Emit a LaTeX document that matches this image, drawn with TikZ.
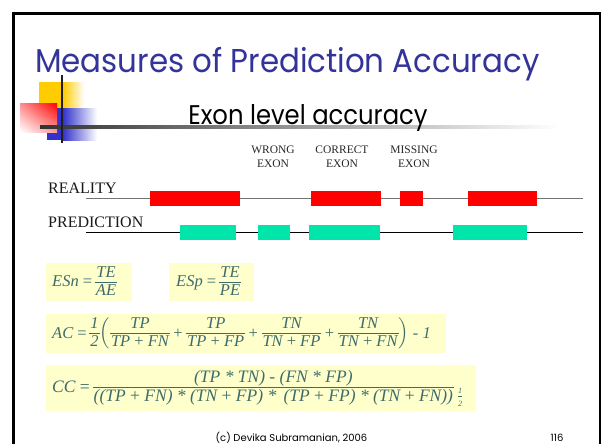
\documentclass[tikz,border=0pt]{standalone}
\usepackage{amsmath}
\usepackage{fontspec}
\usetikzlibrary{shadings}
\setmainfont{Liberation Serif}
\newfontfamily\comic{Poppins}
\definecolor{titleblue}{RGB}{51,51,153}
\definecolor{exonred}{RGB}{255,0,0}
\definecolor{exongreen}{RGB}{0,229,170}
\definecolor{fcol}{RGB}{62,108,108}
\definecolor{fboxcol}{RGB}{255,255,204}
\definecolor{decoyellow}{RGB}{255,204,0}
\definecolor{decoblue}{RGB}{51,51,204}
\definecolor{lblgray}{RGB}{40,40,40}
\newcommand\fr[2]{\ensuremath{\vcenter{\hbox{%
  \setbox0\hbox{\vrule height 0.7em depth 0.22em width 0pt #1}%
  \setbox2\hbox{\vrule height 0.7em depth 0.22em width 0pt #2}%
  \dimen0=\wd0 \ifdim\wd2>\dimen0 \dimen0=\wd2 \fi
  \advance\dimen0 by 2pt
  \vbox{\offinterlineskip\hbox to\dimen0{\hss\box0\hss}\kern1pt\hrule height 0.6pt\kern1pt\hbox to\dimen0{\hss\box2\hss}}}}}}
\newcommand\tinyhalf{\ensuremath{\genfrac{}{}{0.4pt}{1}{\hbox{\fontsize{8}{8}\selectfont\itshape 1}}{\hbox{\fontsize{8}{8}\selectfont\itshape 2}}}}
\newcommand\pl{\hspace{3.5pt}{\upshape +}\hspace{3.5pt}}
\tikzset{
  exbox/.style={inner sep=0, outer sep=0, minimum height=15},
  rbox/.style={exbox, fill=exonred},
  gbox/.style={exbox, fill=exongreen},
  lbl/.style={font=\fontsize{11.5}{14}\selectfont, text=lblgray, align=center, inner sep=0},
  rowlbl/.style={font=\fontsize{16}{16}\selectfont, text=black!90, anchor=base west, inner sep=0},
  formula/.style={fill=fboxcol, text=fcol, font=\fontsize{16.5}{16.5}\selectfont\itshape, inner sep=0, anchor=north west},
}
\begin{document}
\begin{tikzpicture}[x=1pt,y=-1pt]
\useasboundingbox (0,0) rectangle (602,444);
\fill[white] (0,0) rectangle (602,444);
% frame
\draw[line width=2.5pt, black] (13.5,460) -- (13.5,13.5) -- (600,13.5) -- (600,460);
% title
\node[anchor=base west, inner sep=0, text=titleblue, font=\comic\fontsize{33}{33}\selectfont] (title) at (35,72) {\scalebox{0.935}[1]{Measures of Prediction Accuracy}};
% decoration
\fill[decoyellow] (39,82) rectangle (63,108);
\shade[left color=decoyellow, right color=white] (62.9,82) rectangle (84,108);
\fill[decoblue] (47,108) rectangle (63,140);
\shade[left color=decoblue, right color=white] (62.9,108) rectangle (97,140);
\shade[upper right=exonred, upper left=red!45!white, lower right=red!40!white, lower left=white] (20,103) rectangle (57,132);
\shade[left color=black!80, right color=white] (40,125.8) rectangle (560,128.4);
\fill[black!88] (60.8,75) rectangle (63.4,143);
% subtitle
\node[anchor=base, inner sep=0, font=\comic\fontsize{27}{27}\selectfont] (sub) at (308,124) {\scalebox{0.9}[1]{Exon level accuracy}};
% labels
\node[lbl, anchor=north] (wrong) at (273,146) {WRONG\\EXON};
\node[lbl, anchor=north] (correct) at (342,146) {CORRECT\\EXON};
\node[lbl, anchor=north] (missing) at (414,146) {MISSING\\EXON};
% rows
\node[rowlbl] (reality) at (48,193) {REALITY};
\node[rowlbl] (prediction) at (48,227) {PREDICTION};
\coordinate (rl) at (86,198.5);
\coordinate (rr) at (583,198.5);
\coordinate (pl) at (86,232.5);
\coordinate (pr) at (583,232.5);
\draw[line width=1.4pt, black!55] (rl) -- (rr);
\draw[line width=1.1pt, black] (pl) -- (pr);
\node[rbox, minimum width=90] (r1) at (195,198.5) {};
\node[rbox, minimum width=70] (r2) at (346,198.5) {};
\node[rbox, minimum width=23] (r3) at (411.5,198.5) {};
\node[rbox, minimum width=69] (r4) at (502.5,198.5) {};
\node[gbox, minimum width=56] (g1) at (208,232.5) {};
\node[gbox, minimum width=32] (g2) at (274,232.5) {};
\node[gbox, minimum width=71] (g3) at (344.5,232.5) {};
\node[gbox, minimum width=74] (g4) at (490,232.5) {};
% formulas
\node[formula, minimum width=86, minimum height=38] (esn) at (46,263) {\makebox[74pt][l]{ESn {\upshape =}\,\fr{TE}{AE}}};
\node[formula, minimum width=85, minimum height=38] (esp) at (169,263) {\makebox[71pt][l]{ESp {\upshape =}\,\fr{TE}{PE}}};
\node[formula, minimum width=400, minimum height=39] (ac) at (46,314)
  {\makebox[388pt][l]{AC {\upshape =}\,\fr{1}{2}$\left(\mbox{\fr{TP}{TP {\upshape +} FN}\pl\fr{TP}{TP {\upshape +} FP}\pl\fr{TN}{TN {\upshape +} FP}\pl\fr{TN}{TN {\upshape +} FN}}\right)$ {\upshape -} 1}};
\node[formula, minimum width=430, minimum height=46, font=\fontsize{17.5}{17.5}\selectfont\itshape] (cc) at (46,365)
  {\makebox[418pt][l]{CC {\upshape =}\,\fr{(TP * TN) {\upshape -} (FN * FP)}{((TP {\upshape +} FN) * (TN {\upshape +} FP) *\ \,(TP {\upshape +} FP) * (TN {\upshape +} FN))}\hspace{3pt}\raisebox{-8pt}{\tinyhalf}}};
% footer
\node[anchor=base, inner sep=0, font=\comic\fontsize{10}{10}\selectfont] (foot) at (291.5,441) {(c) Devika Subramanian, 2006};
\node[anchor=base, inner sep=0, font=\comic\fontsize{10}{10}\selectfont] (page) at (557,441) {116};
\end{tikzpicture}
\end{document}
